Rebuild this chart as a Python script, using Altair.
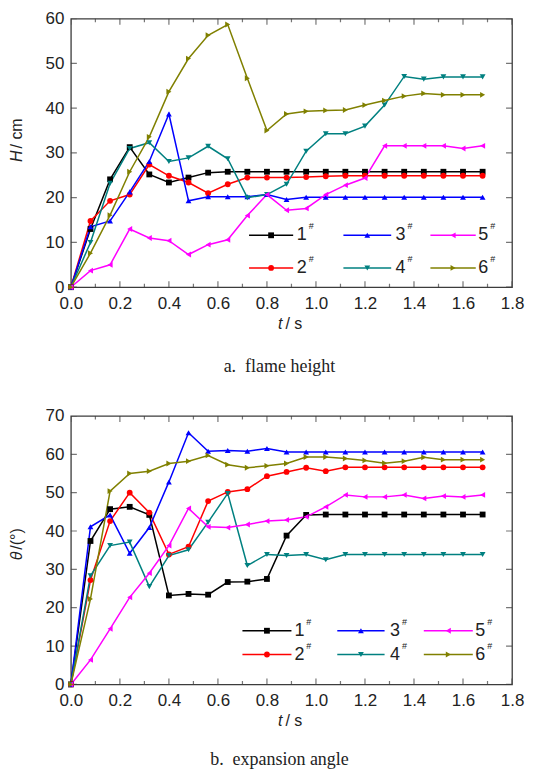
import altair as alt
import pandas as pd

# ---------------- data ----------------
T = [0.00, 0.08, 0.16, 0.24, 0.32, 0.40, 0.48, 0.56, 0.64, 0.72, 0.80,
     0.88, 0.96, 1.04, 1.12, 1.20, 1.28, 1.36, 1.44, 1.52, 1.60, 1.68]

SERIES = ["1", "2", "3", "4", "5", "6"]
COLORS = ["#000000", "#FF0000", "#0000FF", "#008080", "#FF00FF", "#808000"]
SHAPES = ["square", "circle", "triangle-up", "triangle-down", "triangle-left", "triangle-right"]

# flame height H / cm
H1 = [0, 13.0, 24.1, 31.3, 25.2, 23.4, 24.5, 25.6, 25.8, 25.8, 25.8, 25.8, 25.8, 25.8, 25.8, 25.8, 25.8, 25.8, 25.8, 25.8, 25.8, 25.8]
H2 = [0, 14.8, 19.3, 20.7, 27.4, 24.9, 23.4, 21.0, 23.0, 24.5, 24.5, 24.5, 24.6, 24.8, 24.9, 24.9, 24.9, 24.9, 24.9, 24.9, 24.9, 24.9]
H3 = [0, 13.5, 14.8, 21.3, 28.1, 38.7, 19.3, 20.2, 20.2, 20.2, 20.7, 19.6, 20.1, 20.1, 20.1, 20.1, 20.1, 20.1, 20.1, 20.1, 20.1, 20.1]
H4 = [0, 10.0, 23.2, 31.0, 32.3, 28.1, 28.9, 31.5, 28.7, 20.0, 20.7, 23.0, 30.4, 34.3, 34.3, 36.0, 40.7, 47.1, 46.5, 47.0, 47.0, 47.0]
H5 = [0, 3.7, 5.0, 13.0, 11.0, 10.4, 7.3, 9.5, 10.6, 16.0, 20.7, 17.2, 17.6, 20.7, 22.8, 24.4, 31.6, 31.6, 31.6, 31.6, 31.0, 31.6]
H6 = [0, 7.6, 16.1, 25.8, 33.6, 43.7, 51.1, 56.3, 58.7, 46.7, 35.0, 38.7, 39.3, 39.5, 39.6, 40.7, 41.7, 42.7, 43.3, 43.0, 43.0, 43.0]

# expansion angle theta / deg
A1 = [0, 37.4, 45.7, 46.3, 44.2, 23.2, 23.6, 23.4, 26.7, 26.8, 27.5, 38.8, 44.2, 44.3, 44.3, 44.3, 44.3, 44.3, 44.3, 44.3, 44.3, 44.3]
A2 = [0, 27.2, 42.6, 50.0, 44.8, 33.9, 35.9, 47.8, 50.2, 50.9, 54.3, 55.4, 56.5, 55.6, 56.6, 56.6, 56.6, 56.6, 56.6, 56.6, 56.6, 56.6]
A3 = [0, 41.1, 44.2, 34.2, 40.9, 52.8, 65.6, 60.8, 61.0, 60.8, 61.5, 60.6, 60.6, 60.6, 60.6, 60.6, 60.6, 60.6, 60.6, 60.6, 60.6, 60.6]
A4 = [0, 28.3, 36.2, 37.1, 25.5, 33.6, 35.1, 42.3, 49.8, 31.0, 33.9, 33.6, 33.9, 32.5, 33.9, 33.9, 33.9, 33.9, 33.9, 33.9, 33.9, 33.9]
A5 = [0, 6.4, 14.5, 22.7, 29.0, 36.2, 45.9, 41.1, 40.9, 41.7, 42.6, 42.9, 43.7, 46.3, 49.4, 48.9, 48.9, 49.4, 48.5, 49.1, 48.9, 49.4]
A6 = [0, 22.3, 50.4, 55.0, 55.6, 57.6, 58.2, 59.7, 57.3, 56.5, 57.0, 57.6, 59.3, 59.3, 58.9, 58.4, 57.7, 58.2, 59.2, 58.6, 58.6, 58.6]

X_MAJOR = [0.0, 0.2, 0.4, 0.6, 0.8, 1.0, 1.2, 1.4, 1.6, 1.8]
X_MINOR = [0.1, 0.3, 0.5, 0.7, 0.9, 1.1, 1.3, 1.5, 1.7]
H_TICKS = [0, 10, 20, 30, 40, 50, 60]
A_TICKS = [0, 10, 20, 30, 40, 50, 60, 70]

# legend layout (data units): columns -> (line start, line end, label x), rows -> y
LEG_ORDER = [["1", "2"], ["3", "4"], ["5", "6"]]
H_LEG_COLS = [(0.727, 0.907, 0.922), (1.112, 1.307, 1.325), (1.467, 1.652, 1.662)]
H_LEG_ROWS = [11.6, 4.3]
A_LEG_COLS = [(0.700, 0.900, 0.912), (1.087, 1.280, 1.302), (1.440, 1.640, 1.650)]
A_LEG_ROWS = [14.0, 7.8]

FONT = "Liberation Sans"
TXT = "#222222"
FRAME = "#3c3c3c"
XMAX = 1.8
W, HGT = 442, 269


def panel(series_vals, ymax, yticks, leg_cols, leg_rows, ytitle, caption, ytitle_anchor, cap_dy):
    xs = alt.Scale(domain=[0, XMAX], nice=False, zero=False)
    ys = alt.Scale(domain=[0, ymax], nice=False, zero=False)
    xaxis = alt.Axis(values=X_MAJOR, format=".1f", title=None, ticks=False, domain=False,
                     grid=False, labelPadding=8, labelFontSize=17, labelFont=FONT,
                     labelColor=TXT, labelFlush=False, labelOverlap=False)
    yaxis = alt.Axis(values=yticks, title=None, ticks=False, domain=False, grid=False,
                     labelPadding=7, labelFontSize=17, labelFont=FONT, labelColor=TXT,
                     labelFlush=False, labelOverlap=False)

    def X(f):
        return alt.X(f, type="quantitative", scale=xs, axis=xaxis)

    def Y(f):
        return alt.Y(f, type="quantitative", scale=ys, axis=yaxis)

    color = alt.Color("s:N", scale=alt.Scale(domain=SERIES, range=COLORS), legend=None)
    shape = alt.Shape("s:N", scale=alt.Scale(domain=SERIES, range=SHAPES), legend=None)

    rows = []
    for s, vals in zip(SERIES, series_vals):
        for t, v in zip(T, vals):
            rows.append({"s": s, "t": t, "v": v})
    df = pd.DataFrame(rows)

    lines = alt.Chart(df).mark_line(strokeWidth=1.5).encode(x=X("t"), y=Y("v"), color=color)
    pts = alt.Chart(df).mark_point(filled=True, size=34, opacity=1).encode(
        x=X("t"), y=Y("v"), color=color, shape=shape)

    # inward ticks on all four sides (outer half clipped by the frame)
    xmaj = pd.DataFrame([{"t": x, "v": yy} for x in X_MAJOR for yy in (0, ymax)])
    xmin = pd.DataFrame([{"t": x, "v": yy} for x in X_MINOR for yy in (0, ymax)])
    ymaj = pd.DataFrame([{"t": xx, "v": y} for y in yticks for xx in (0, XMAX)])
    tk_x1 = alt.Chart(xmaj).mark_tick(orient="vertical", size=12, thickness=1.2,
                                      color=FRAME, clip=True).encode(x=X("t"), y=Y("v"))
    tk_x2 = alt.Chart(xmin).mark_tick(orient="vertical", size=7, thickness=1.2,
                                      color=FRAME, clip=True).encode(x=X("t"), y=Y("v"))
    tk_y = alt.Chart(ymaj).mark_tick(orient="horizontal", size=12, thickness=1.2,
                                     color=FRAME, clip=True).encode(x=X("t"), y=Y("v"))

    # in-plot legend
    lrows = []
    for (x1, x2, tx), col in zip(leg_cols, LEG_ORDER):
        for yv, s in zip(leg_rows, col):
            lrows.append({"s": s, "x1": x1, "x2": x2, "t": (x1 + x2) / 2, "tx": tx, "v": yv})
    ldf = pd.DataFrame(lrows)
    leg_line = alt.Chart(ldf).mark_rule(strokeWidth=1.5).encode(
        x=X("x1"), x2="x2", y=Y("v"), color=color)
    leg_pt = alt.Chart(ldf).mark_point(filled=True, size=34, opacity=1).encode(
        x=X("t"), y=Y("v"), color=color, shape=shape)
    leg_num = alt.Chart(ldf).mark_text(align="left", baseline="middle", font=FONT,
                                       fontSize=18, color=TXT).encode(
        x=X("tx"), y=Y("v"), text="s:N")
    leg_sup = alt.Chart(ldf).mark_text(align="left", baseline="middle", font=FONT,
                                       fontSize=9, color=TXT, dx=12, dy=-9, text="#").encode(
        x=X("tx"), y=Y("v"))

    one = pd.DataFrame({"k": [0]})
    it_part, rest_part = ytitle
    yt1 = alt.Chart(one).mark_text(text=it_part, angle=270, align="right", baseline="middle",
                                   font=FONT, fontSize=16, fontStyle="italic", color=TXT).encode(
        x=alt.value(-54), y=alt.value(ytitle_anchor))
    yt2 = alt.Chart(one).mark_text(text=rest_part, angle=270, align="left", baseline="middle",
                                   font=FONT, fontSize=16, color=TXT, dx=2).encode(
        x=alt.value(-54), y=alt.value(ytitle_anchor))
    xt1 = alt.Chart(one).mark_text(text="t", align="right", baseline="middle",
                                   font=FONT, fontSize=16, fontStyle="italic", color=TXT).encode(
        x=alt.value(212), y=alt.value(HGT + 37))
    xt2 = alt.Chart(one).mark_text(text="\u00a0/\u00a0s", align="left", baseline="middle",
                                   font=FONT, fontSize=16, color=TXT, dx=3).encode(
        x=alt.value(212), y=alt.value(HGT + 37))
    cap = alt.Chart(one).mark_text(text=caption, align="center", baseline="middle",
                                   font="Liberation Serif", fontSize=18, color=TXT).encode(
        x=alt.value(209), y=alt.value(HGT + cap_dy))

    return alt.layer(tk_x1, tk_x2, tk_y, lines, pts, leg_line, leg_pt, leg_num, leg_sup,
                     yt1, yt2, xt1, xt2, cap).properties(width=W, height=HGT)


top = panel([H1, H2, H3, H4, H5, H6], 60, H_TICKS, H_LEG_COLS, H_LEG_ROWS,
            ("H", "\u00a0/\u00a0cm"), "a.\u00a0\u00a0flame height", 132, 80)
bottom = panel([A1, A2, A3, A4, A5, A6], 70, A_TICKS, A_LEG_COLS, A_LEG_ROWS,
               ("\u03b8", "/(\u00b0)"), "b.\u00a0\u00a0expansion angle", 136, 76)

chart = alt.vconcat(top, bottom, spacing=29).properties(
    padding={"left": 0, "top": 0, "right": 0, "bottom": 0}
).configure_view(stroke=FRAME, strokeWidth=1.3)

chart.save("out.html", embed_options={"renderer": "svg", "actions": False})
